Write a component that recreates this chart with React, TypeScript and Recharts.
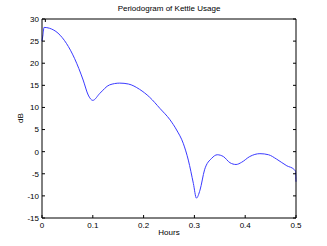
import { LineChart, Line, XAxis, YAxis } from "recharts";

// frequency (cycles per hour) and power (dB)
const hours = [
  0, 0.002, 0.004, 0.015, 0.0315, 0.048, 0.064, 0.081, 0.091, 0.1, 0.114, 0.133,
  0.153, 0.17, 0.192, 0.212, 0.232, 0.252, 0.265, 0.278, 0.288, 0.298, 0.304,
  0.311, 0.32, 0.334, 0.345, 0.357, 0.37, 0.382, 0.393, 0.409, 0.429, 0.446,
  0.462, 0.482, 0.496, 0.499, 0.5,
];
const dB = [
  25.0, 26.5, 28.1, 27.9, 26.8, 24.5, 21.1, 16.2, 12.8, 11.6, 13.2, 15.1,
  15.5, 15.3, 14.1, 12.3, 9.8, 7.2, 4.9, 1.9, -1.9, -7.2, -10.5,
  -8.7, -4.1, -1.5, -0.7, -1.1, -2.5, -2.9, -2.4, -1.1, -0.45, -0.7,
  -1.7, -3.2, -4.0, -4.4, -6.8,
];
const xTicks = [0, 0.1, 0.2, 0.3, 0.4, 0.5];
const yTicks = [-15, -10, -5, 0, 5, 10, 15, 20, 25, 30];

const data = hours.map((h, i) => ({ h, db: dB[i] }));

const font = "'Liberation Sans', Arial, sans-serif";
const tickStyle = { fill: "#000", fontSize: 8, fontFamily: font };

export default function App() {
  return (
    <div
      style={{
        position: "fixed",
        left: 0,
        top: 0,
        width: 327,
        height: 246,
        background: "#fff",
        fontFamily: font,
      }}
    >
      <LineChart
        width={327}
        height={246}
        data={data}
        margin={{ top: 18, right: 30, left: 0, bottom: 0 }}
      >
        <XAxis
          dataKey="h"
          type="number"
          domain={[0, 0.5]}
          ticks={xTicks}
          height={28}
          tickSize={-3}
          tickMargin={7}
          tick={tickStyle}
          stroke="#000"
          tickFormatter={(v: number) => `${v}`}
        />
        <XAxis
          xAxisId="top"
          orientation="top"
          type="number"
          domain={[0, 0.5]}
          ticks={xTicks}
          height={1}
          tickSize={-3}
          allowDataOverflow
          stroke="#000"
          tickFormatter={() => ""}
        />
        <YAxis
          type="number"
          domain={[-15, 30]}
          ticks={yTicks}
          width={42}
          tickSize={-3}
          tickMargin={6}
          tick={tickStyle}
          stroke="#000"
          interval={0}
        />
        <YAxis
          yAxisId="right"
          orientation="right"
          type="number"
          domain={[-15, 30]}
          ticks={yTicks}
          width={1}
          tickSize={-3}
          allowDataOverflow
          stroke="#000"
          interval={0}
          tickFormatter={() => ""}
        />
        <Line
          dataKey="db"
          type="monotone"
          stroke="#3a3aff"
          strokeWidth={1}
          dot={false}
          isAnimationActive={false}
        />
      </LineChart>
      <div
        style={{
          position: "absolute",
          left: 42,
          width: 254,
          top: 4,
          textAlign: "center",
          fontSize: 8,
        }}
      >
        Periodogram of Kettle Usage
      </div>
      <div
        style={{
          position: "absolute",
          left: 42,
          width: 254,
          top: 228,
          textAlign: "center",
          fontSize: 8,
        }}
      >
        Hours
      </div>
      <div
        style={{
          position: "absolute",
          left: 20,
          top: 118,
          fontSize: 8,
          transform: "translate(-50%, -50%) rotate(-90deg)",
        }}
      >
        dB
      </div>
    </div>
  );
}
